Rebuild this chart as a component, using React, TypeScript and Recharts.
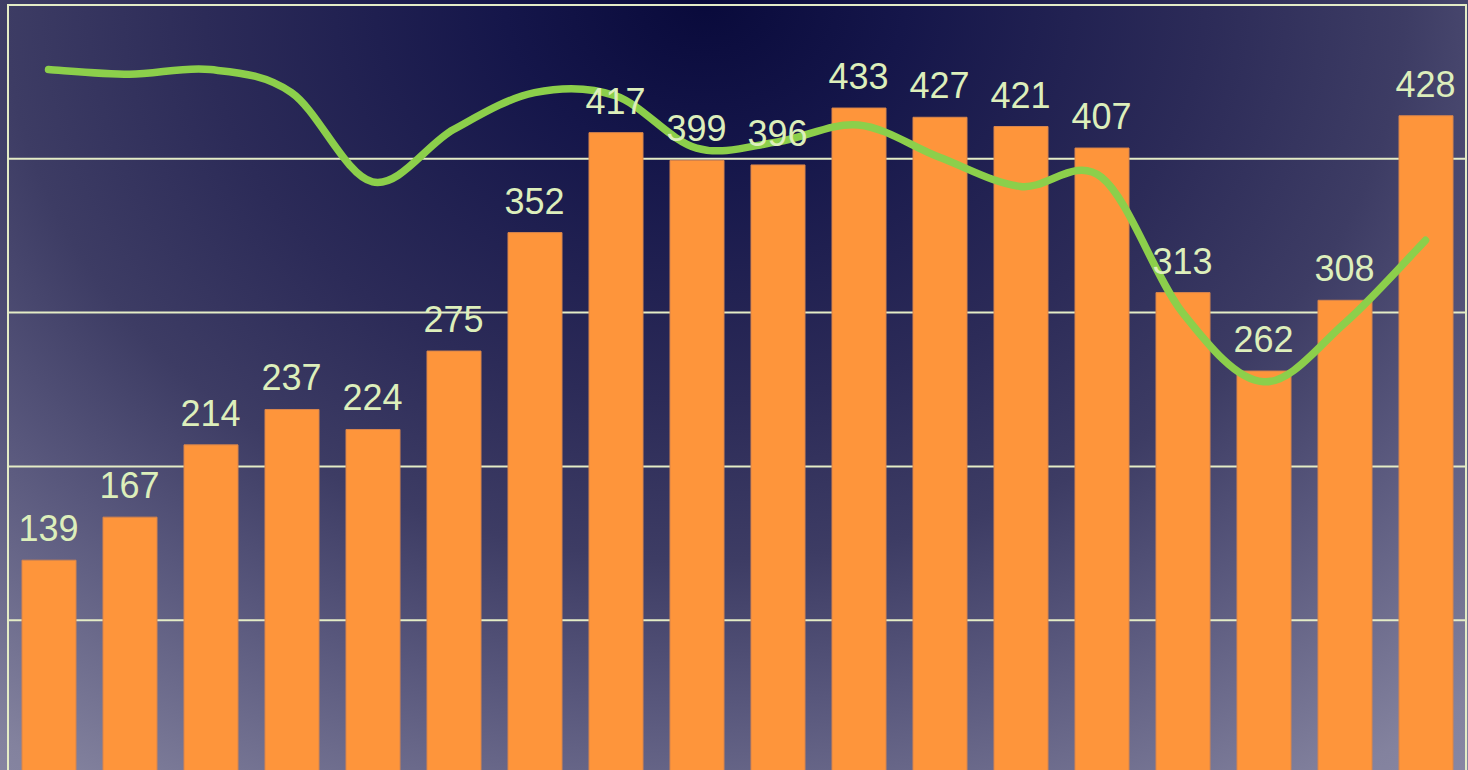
import React from "react"
import { ComposedChart, Bar, Line, XAxis, YAxis, CartesianGrid, LabelList, ReferenceArea } from "recharts"

const categories = ["1", "2", "3", "4", "5", "6", "7", "8", "9", "10", "11", "12", "13", "14", "15", "16", "17", "18"]
const barValues = [139, 167, 214, 237, 224, 275, 352, 417, 399, 396, 433, 427, 421, 407, 313, 262, 308, 428]
const lineValues = [458, 455, 458, 443, 385, 419, 443, 441, 407, 411, 422, 401, 382, 388, 300, 255, 293, 347]
const yTicks = [0, 100, 200, 300, 400, 500]

const chartData = categories.map((c, i) => ({
  cat: c,
  bar: barValues[i],
  line: lineValues[i],
}))

const GRID = "#e4ecc6"
const LABEL = "#ddefbb"

// Catmull-Rom style smoothing, like a spreadsheet "smoothed line"
const smoothCurve = (context: any) => {
  let pts: [number, number][] = []
  return {
    areaStart() {},
    areaEnd() {},
    lineStart() {
      pts = []
    },
    point(x: number, y: number) {
      pts.push([+x, +y])
    },
    lineEnd() {
      if (!pts.length) return
      context.moveTo(pts[0][0], pts[0][1])
      for (let i = 0; i < pts.length - 1; i++) {
        const p0 = pts[i - 1] || pts[i]
        const p1 = pts[i]
        const p2 = pts[i + 1]
        const p3 = pts[i + 2] || p2
        context.bezierCurveTo(
          p1[0] + (p2[0] - p0[0]) / 6,
          p1[1] + (p2[1] - p0[1]) / 6,
          p2[0] - (p3[0] - p1[0]) / 6,
          p2[1] - (p3[1] - p1[1]) / 6,
          p2[0],
          p2[1]
        )
      }
    },
  }
}

export default function App() {
  return (
    <div
      style={{
        position: "absolute",
        left: 0,
        top: 0,
        width: 1468,
        height: 770,
        overflow: "hidden",
        background:
          "radial-gradient(ellipse 1000px 800px at 48% 0%, #090a3b 0%, #15164a 20%, #2c2b58 50%, #3d3c64 70%, #58577c 88%, #83829e 116%, #8c8ba8 130%)",
        fontFamily: "'Liberation Sans', Arial, sans-serif",
      }}
    >
      <ComposedChart width={1468} height={780} data={chartData} margin={{ top: 5, right: 2, left: 8, bottom: 6 }}>
        <XAxis dataKey="cat" hide />
        <YAxis domain={[0, 500]} ticks={yTicks} hide />
        <YAxis yAxisId="R" orientation="right" domain={[0, 500]} ticks={yTicks} hide />
        <CartesianGrid vertical={false} stroke={GRID} strokeWidth={2} />
        <ReferenceArea y1={0} y2={500} fill="none" stroke={GRID} strokeWidth={2} fillOpacity={0} />
        <Bar dataKey="bar" fill="#fe953b" stroke="#d8854c" strokeWidth={1} barSize={54} isAnimationActive={false} />
        <Line
          yAxisId="R"
          dataKey="line"
          type={smoothCurve as any}
          stroke="#8ccf4b"
          strokeWidth={7.5}
          strokeLinecap="round"
          dot={false}
          activeDot={false}
          isAnimationActive={false}
        />
        <Line dataKey="bar" stroke="none" dot={false} activeDot={false} isAnimationActive={false}>
          <LabelList
            dataKey="bar"
            position="top"
            offset={19}
            fill={LABEL}
            fontSize={36}
            fontFamily="'Liberation Sans', Arial, sans-serif"
          />
        </Line>
      </ComposedChart>
    </div>
  )
}
